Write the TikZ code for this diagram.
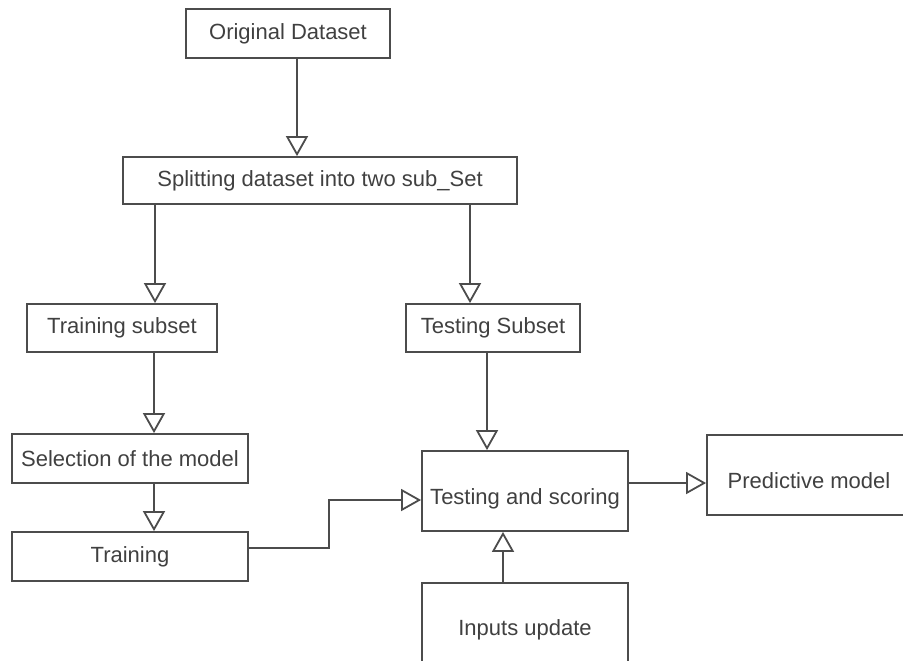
\documentclass[tikz,border=0pt]{standalone}
\usepackage{fontspec}
\setmainfont{Liberation Sans}
\usetikzlibrary{arrows.meta}
\tikzset{
  box/.style={draw=black!70, line width=0.9pt, inner sep=0pt, text=black!75, font=\fontsize{11}{13}\selectfont},
  low/.style={text height=16pt, text depth=2.3pt},
  flow/.style={draw=black!70, line width=0.9pt, -{Triangle[open, length=10pt, width=11pt, line width=0.9pt]}}
}
\begin{document}
\begin{tikzpicture}[x=0.5pt, y=-0.5pt]
  \useasboundingbox (0, 0) rectangle (903, 660);
  \clip (0, 0) rectangle (903, 660);
  \node[box, minimum width=102pt, minimum height=24.5pt] (orig) at (288, 33.5) {Original Dataset};
  \node[box, minimum width=197pt, minimum height=23.5pt] (split) at (320, 180.5) {Splitting dataset into two sub\_Set};
  \node[box, minimum width=95pt, minimum height=24pt] (trsub) at (122, 328) {Training subset};
  \node[box, minimum width=87pt, minimum height=24pt] (tesub) at (493, 328) {Testing Subset};
  \node[box, minimum width=118pt, minimum height=24.5pt] (sel) at (130, 458.5) {Selection of the model};
  \node[box, minimum width=118pt, minimum height=24.5pt] (train) at (130, 556.5) {Training};
  \node[box, low, minimum width=103pt, minimum height=40pt] (test) at (525, 491) {Testing and scoring};
  \node[box, low, minimum width=102pt, minimum height=40pt] (pred) at (809, 475) {Predictive model};
  \node[box, minimum width=103pt, minimum height=47pt] (inp) at (525, 630) {Inputs update};
  \draw[flow] ([xshift=4.5pt]orig.south) -- ([xshift=4.5pt]orig.south |- split.north);
  \draw[flow] ([xshift=-82.5pt]split.south) -- ([xshift=-82.5pt]split.south |- trsub.north);
  \draw[flow] ([xshift=75pt]split.south) -- ([xshift=75pt]split.south |- tesub.north);
  \draw[flow] ([xshift=16pt]trsub.south) -- ([xshift=16pt]trsub.south |- sel.north);
  \draw[flow] ([xshift=12pt]sel.south) -- ([xshift=12pt]sel.south |- train.north);
  \draw[flow] ([xshift=-3pt]tesub.south) -- ([xshift=-3pt]tesub.south |- test.north);
  \draw[flow] ([yshift=4.25pt]train.east) -- ++(80, 0) |- ([yshift=-4.5pt]test.west);
  \draw[flow] ([yshift=4pt]test.east) -- ([yshift=4pt]test.east -| pred.west);
  \draw[flow] ([xshift=-11pt]inp.north) -- ([xshift=-11pt]inp.north |- test.south);
\end{tikzpicture}
\end{document}
